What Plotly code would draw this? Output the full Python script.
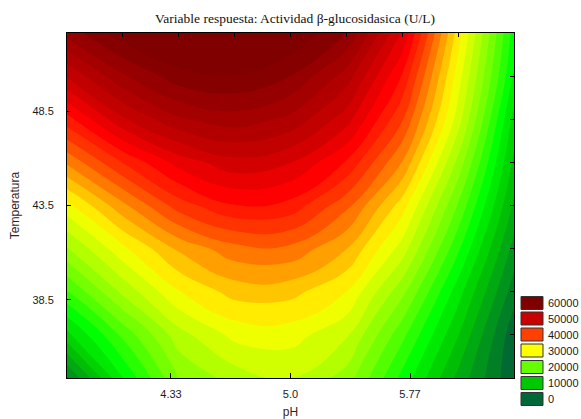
import plotly.graph_objects as go

# ---- data ----
ph_coded = [-1.87, -1.4025, -0.935, -0.4675, 0.0, 0.4675, 0.935, 1.4025, 1.87]
ph_tick_vals = [-1, 0, 1]
ph_tick_text = ["4.33", "5.0", "5.77"]
temperatura = [34.37, 36.65, 38.93, 41.22, 43.5, 45.78, 48.07, 50.35, 52.63]
temp_ticks = [38.5, 43.5, 48.5]

# beta-glucosidase activity (U/L); rows = temperatura (bottom->top), cols = pH
actividad = [
    [3700, 14000, 22000, 24900, 26000, 23100, 15400, 7400, 300],
    [11300, 18500, 25200, 28600, 28900, 26300, 18600, 10100, 600],
    [17800, 24500, 29900, 32800, 32700, 30000, 22600, 12900, 2900],
    [23800, 29500, 34400, 37300, 37500, 34100, 27100, 16400, 5200],
    [29300, 35500, 41000, 43900, 43300, 38600, 31000, 19800, 7600],
    [36400, 42100, 46800, 49300, 48100, 43800, 35900, 23400, 9500],
    [43200, 49700, 53700, 55100, 53500, 48900, 40200, 27000, 11300],
    [50200, 55700, 59200, 59900, 58000, 53100, 43800, 29000, 13800],
    [56700, 61200, 63400, 63600, 62000, 58000, 47800, 31000, 15000],
]

legend_values = [60000, 50000, 40000, 30000, 20000, 10000, 0]
legend_colors = ["#800000", "#c80000", "#ff4000", "#ffff00", "#66ff00", "#00c800", "#006837"]

colorscale = [
    [0.0, "rgb(0,95,55)"],
    [10000 / 60000, "rgb(0,200,0)"],
    [15000 / 60000, "rgb(0,255,0)"],
    [20000 / 60000, "rgb(102,255,0)"],
    [30000 / 60000, "rgb(255,255,0)"],
    [40000 / 60000, "rgb(255,64,0)"],
    [45000 / 60000, "rgb(255,0,0)"],
    [50000 / 60000, "rgb(200,0,0)"],
    [1.0, "rgb(128,0,0)"],
]

W, H = 581, 419
L, R, T, B = 67, 67, 33, 41
pw, ph = W - L - R, H - T - B

fig = go.Figure()
fig.add_trace(go.Contour(
    x=ph_coded, y=temperatura, z=actividad,
    colorscale=colorscale, zmin=0, zmax=60000, zauto=False,
    contours=dict(start=0, end=64000, size=2000, coloring="fill", showlines=False),
    line=dict(width=0, smoothing=1.3),
    showscale=False, hoverinfo="skip",
))
# dummy trace for the unlabeled top / right tick axes
fig.add_trace(go.Scatter(x=[None], y=[None], xaxis="x2", yaxis="y2",
                         showlegend=False, hoverinfo="skip"))

tickfont = dict(family="Liberation Sans, Arial, sans-serif", size=11, color="#1a1a1a")
titlefont = dict(family="Liberation Sans, Arial, sans-serif", size=12, color="#3a1e1e")

fig.update_layout(
    width=W, height=H,
    margin=dict(l=L, r=R, t=T, b=B, pad=0, autoexpand=False),
    paper_bgcolor="white", plot_bgcolor="white",
    showlegend=False,
    title=dict(text="Variable respuesta: Actividad β-glucosidasica (U/L)",
               font=dict(family="Liberation Serif, Times New Roman, serif", size=13.5, color="#111"),
               x=295 / W, xanchor="center", xref="container",
               y=1 - 18 / H, yanchor="middle", yref="container"),
    xaxis=dict(range=[-1.87, 1.87], tickvals=ph_tick_vals, ticktext=ph_tick_text,
               ticks="inside", ticklen=5, tickcolor="#000", showline=True, linecolor="#000",
               linewidth=1, mirror=True, showgrid=False, zeroline=False, tickfont=tickfont,
               ticklabelstandoff=6, automargin=False,
               title=dict(text="pH", font=titlefont, standoff=8)),
    yaxis=dict(range=[34.37, 52.63], tickvals=temp_ticks, ticktext=[f"{v:.1f}" for v in temp_ticks],
               ticks="inside", ticklen=4, tickcolor="#000", showline=True, linecolor="#000",
               linewidth=1, mirror=True, showgrid=False, zeroline=False, tickfont=tickfont,
               ticklabelstandoff=10, automargin=False,
               title=dict(text="Temperatura", font=titlefont, standoff=10)),
    xaxis2=dict(overlaying="x", side="top", anchor="y", range=[0, 8], tickvals=list(range(1, 8)),
                ticks="inside", ticklen=4, tickcolor="#000", showticklabels=False,
                showgrid=False, zeroline=False, showline=False, automargin=False),
    yaxis2=dict(overlaying="y", side="right", anchor="x", range=[0, 8], tickvals=list(range(1, 8)),
                ticks="inside", ticklen=4, tickcolor="#000", showticklabels=False,
                showgrid=False, zeroline=False, showline=False, automargin=False),
)

# legend: colour boxes with labels to the right of the plot
centers = [303, 318.5, 334.5, 350.5, 367, 383, 399]
for val, col, c in zip(legend_values, legend_colors, centers):
    fig.add_shape(type="rect", xref="paper", yref="paper",
                  x0=(521 - L) / pw, x1=(543 - L) / pw,
                  y0=(H - B - (c + 6.5)) / ph, y1=(H - B - (c - 6.5)) / ph,
                  fillcolor=col, line=dict(color="#333", width=1))
    fig.add_annotation(text=str(val), xref="paper", yref="paper",
                       x=(546 - L) / pw, y=(H - B - c) / ph, xanchor="left", yanchor="middle",
                       showarrow=False, font=dict(family="Liberation Sans, Arial, sans-serif",
                                                  size=11, color="#1a1a1a"))

fig.write_html("out.html")
